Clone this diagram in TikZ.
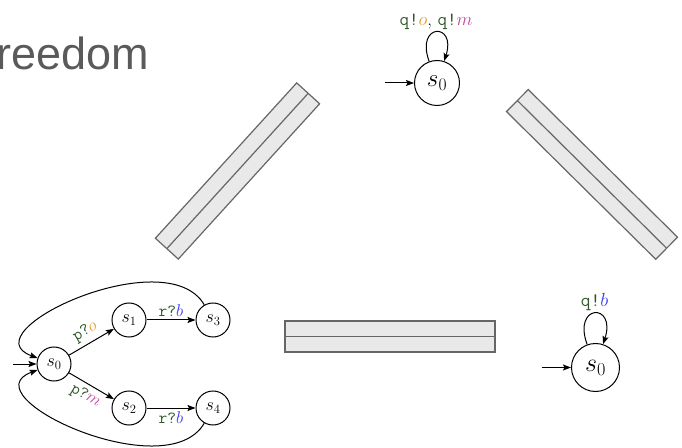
\RequirePackage{fix-cm}
\documentclass[tikz,border=0pt]{standalone}
\usepackage{fontspec}
\newfontfamily\slidefont{Liberation Sans}
\usepackage{tikz}
\usetikzlibrary{arrows.meta}

\definecolor{chan}{HTML}{2F5A28}
\definecolor{msgo}{HTML}{E39A2C}
\definecolor{msgm}{HTML}{C0469E}
\definecolor{msgb}{HTML}{3A3AF2}
\definecolor{slidegray}{HTML}{5A5A5A}
\definecolor{barfill}{HTML}{E9E9E9}
\definecolor{barline}{HTML}{666666}

\tikzstyle{state} = [circle,draw,line width=1pt,inner sep=0pt]
\tikzstyle{arrow} = [line width=1pt,->,>={Stealth[length=8pt,width=6pt,inset=1.5pt]}]
\tikzstyle{bar} = [draw=barline,fill=barfill,line width=1.2pt]

\begin{document}
\begin{tikzpicture}[x=1pt,y=1pt]
  \useasboundingbox (0,0) rectangle (682,447);

  % Judul slide (terpotong di kiri)
  \node[anchor=base east, inner sep=0pt, text=slidegray,
        font=\slidefont\fontsize{45}{50}\selectfont] (title) at (149.5,377) {reedom};

  % Tiga balok penghubung
  \foreach \cx/\cy/\ang in {237.5/276/47.7, 592/272.6/-44.7, 390/110.5/0} {
    \begin{scope}[shift={(\cx,\cy)}, rotate=\ang]
      \draw[bar] (-105,-15.5) rectangle (105,15.5);
      \draw[bar] (-105,0) -- (105,0);
    \end{scope}
  }

  % Automat atas: q!o, q!m
  \begin{scope}[font=\fontsize{18.5}{22}\selectfont]
    \node[state, minimum size=45pt, font=\fontsize{25}{28}\selectfont] (t0) at (437,364) {$s_0$};
    \coordinate (t0in) at (385,364);
    \draw[arrow] (t0in) -- (t0);
    \draw[arrow] (t0) to[out=110,in=72,looseness=7]
      node[above, inner sep=2pt] (t0lbl)
      {\textcolor{chan}{\texttt{q!}}$\textcolor{msgo}{o}$, \textcolor{chan}{\texttt{q!}}$\textcolor{msgm}{m}$} (t0);
  \end{scope}

  % Automat kanan bawah: q!b
  \begin{scope}[font=\fontsize{19}{22}\selectfont]
    \node[state, minimum size=48pt, font=\fontsize{26}{29}\selectfont] (b0) at (595.5,79.5) {$s_0$};
    \coordinate (b0in) at (541.5,79.5);
    \draw[arrow] (b0in) -- (b0);
    \draw[arrow] (b0) to[out=110,in=72,looseness=7]
      node[above, inner sep=2pt] (b0lbl)
      {\textcolor{chan}{\texttt{q!}}$\textcolor{msgb}{b}$} (b0);
  \end{scope}

  % Automat kiri: p?o / p?m lalu r?b
  \begin{scope}[font=\fontsize{17}{20}\selectfont,
                >={Stealth[length=7pt,width=5.5pt,inset=1.5pt]}]
    \node[state, minimum size=34pt, font=\fontsize{18}{21}\selectfont] (s0) at (54,83) {$s_0$};
    \node[state, minimum size=34pt, font=\fontsize{18}{21}\selectfont] (s1) at (129,127) {$s_1$};
    \node[state, minimum size=34pt, font=\fontsize{18}{21}\selectfont] (s3) at (213,127) {$s_3$};
    \node[state, minimum size=34pt, font=\fontsize{18}{21}\selectfont] (s2) at (129,39) {$s_2$};
    \node[state, minimum size=34pt, font=\fontsize{18}{21}\selectfont] (s4) at (213,39) {$s_4$};
    \coordinate (s0in) at (13,83);

    \draw[arrow] (s0in) -- (s0);
    \draw[arrow] (s0) -- node[above=1pt, sloped] {\textcolor{chan}{\texttt{p?}}$\textcolor{msgo}{o}$} (s1);
    \draw[arrow] (s0) -- node[below=1pt, sloped] {\textcolor{chan}{\texttt{p?}}$\textcolor{msgm}{m}$} (s2);
    \draw[arrow] (s1) -- node[above] {\textcolor{chan}{\texttt{r?}}$\textcolor{msgb}{b}$} (s3);
    \draw[arrow] (s2) -- node[below] {\textcolor{chan}{\texttt{r?}}$\textcolor{msgb}{b}$} (s4);

    % Kembali ke s0
    \draw[arrow] (s3) to[out=120,in=160,looseness=1.1] (s0);
    \draw[arrow] (s4) to[out=-120,in=200,looseness=1.1] (s0);
  \end{scope}
\end{tikzpicture}
\end{document}
